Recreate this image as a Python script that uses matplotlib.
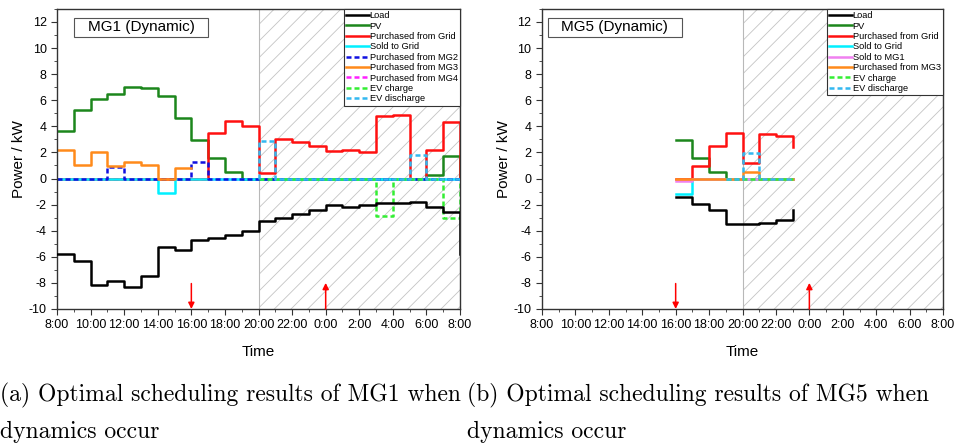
import numpy as np
import matplotlib
matplotlib.use("Agg")
import matplotlib.pyplot as plt
from matplotlib.ticker import MultipleLocator, FixedLocator

plt.rcParams["font.family"] = ["Liberation Sans", "DejaVu Sans"]
plt.rcParams["hatch.linewidth"] = 0.6
plt.rcParams["axes.unicode_minus"] = False

# hours counted from 8:00 (0) to 8:00 next day (24)
# ---- MG1, hourly values from 8:00 ----
load1 = [-5.8, -6.3, -8.15, -7.85, -8.35, -7.45, -5.25, -5.45, -4.75, -4.55, -4.35, -4.0,
         -3.25, -3.05, -2.75, -2.4, -2.05, -2.15, -2.0, -1.9, -1.9, -1.8, -2.15, -2.6]
load1_end = -5.8
pv1 = [3.63, 5.24, 6.1, 6.5, 7.05, 6.9, 6.33, 4.63, 2.93, 1.57, 0.52, 0,
       0, 0, 0, 0, 0, 0, 0, 0, 0, 0, 0.27, 1.72]
grid1 = [0, 0, 0, 0, 0, 0, 0, 0, 0, 3.48, 4.38, 4.04,
         0.4, 3.05, 2.8, 2.48, 2.07, 2.15, 2.05, 4.76, 4.88, 0, 2.2, 4.3]
sold1 = [0, 0, 0, 0, 0, 0, -1.12, 0, 0, 0, 0, 0,
         0, 0, 0, 0, 0, 0, 0, 0, 0, 0, 0, 0]
mg2_1 = [0, 0, 0, 0.88, 0, 0, 0, 0, 1.28, 0, 0, 0,
         0, 0, 0, 0, 0, 0, 0, 0, 0, 0, 0, 0]
mg3_1 = [2.17, 1.0, 2.02, 0.92, 1.3, 1.07, 0, 0.77]          # 8:00-16:00
mg4_1 = [0] * 24
ev_ch1 = [0, 0, 0, 0, 0, 0, 0, -2.86, 0, 0, 0, -3.0]          # 20:00-8:00
ev_dis1 = [2.86, 0, 0, 0, 0, 0, 0, 0, 0, 1.8, 0, 0]           # 20:00-8:00

# ---- MG5, hourly values from 16:00 ----
load5 = [-1.38, -1.95, -2.45, -3.5, -3.47, -3.4, -3.15]
load5_end = -2.4
pv5 = [2.94, 1.56, 0.51, 0, 0, 0, 0]
grid5 = [0, 0.95, 2.48, 3.5, 1.15, 3.42, 3.22]
grid5_end = 2.4
sold5 = [-1.2, 0, 0, 0, 0, 0, 0]
sold_mg1_5 = [-0.2, 0, 0, 0, 0, 0, 0]
mg3_5 = [0, 0, 0, 0, 0.5, 0, 0]
ev_ch5 = [0, 0, 0, 0]      # 19:00-23:00
ev_dis5 = [0, 1.95, 0, 0]  # 19:00-23:00

hour_labels = ["8:00", "10:00", "12:00", "14:00", "16:00", "18:00", "20:00",
               "22:00", "0:00", "2:00", "4:00", "6:00", "8:00"]

C_LOAD, C_PV, C_GRID, C_SOLD = "black", "#1c861c", "#ff1010", "#00f0ff"
C_MG2, C_MG3, C_MG4, C_MG1 = "#1010e0", "#ff8a1a", "#ff20ff", "#f080f0"
C_EVC, C_EVD = "#33ee33", "#33b8f0"
LW = 1.8
DASH = (2.0, 1.2)


def steps(ax, start, vals, end=None, lead=None, **kw):
    vals = list(vals)
    x = start + np.arange(len(vals) + 1)
    y = vals + [vals[-1] if end is None else end]
    if lead is not None:
        x = np.r_[start, x]
        y = [lead] + y
    kw.setdefault("lw", LW)
    return ax.plot(x, y, drawstyle="steps-post", **kw)[0]


def dashed(ax, *a, **kw):
    ln = steps(ax, *a, **kw)
    ln.set_dashes(DASH)
    return ln


def setup(ax, title, title_x):
    ax.axvspan(12, 24, facecolor="none", edgecolor="#c4c4c4", hatch="//", lw=0, zorder=0)
    ax.axvline(12, color="#b8b8b8", lw=0.8, zorder=0.5)
    ax.set_xlim(0, 24)
    ax.set_ylim(-10, 13)
    ax.xaxis.set_major_locator(FixedLocator(np.arange(0, 25, 2)))
    ax.set_xticklabels(hour_labels)
    ax.xaxis.set_minor_locator(MultipleLocator(1))
    ax.yaxis.set_major_locator(FixedLocator(np.arange(-10, 13, 2)))
    ax.yaxis.set_minor_locator(MultipleLocator(1))
    ax.tick_params(which="both", direction="out", labelsize=9, color="#333333")
    ax.tick_params(which="major", length=4)
    ax.tick_params(which="minor", length=2.5)
    for s in ax.spines.values():
        s.set_color("#333333")
        s.set_linewidth(1.0)
    ax.set_xlabel("Time", fontsize=11, labelpad=10)
    ax.set_ylabel("Power / kW", fontsize=11, labelpad=2)
    ax.add_patch(plt.Rectangle((title_x, 0.907), 0.333, 0.063, transform=ax.transAxes,
                               facecolor="white", edgecolor="#555555", lw=0.8, zorder=5))
    ax.text(title_x + 0.1665, 0.9385, title, transform=ax.transAxes, ha="center",
            va="center", fontsize=11, zorder=6)
    arrow = dict(arrowstyle="-|>", color="red", lw=1.1, mutation_scale=9, shrinkA=0, shrinkB=0)
    ax.annotate("", xy=(8, -10), xytext=(8, -8.05), arrowprops=arrow, zorder=6)
    ax.annotate("", xy=(16, -8.0), xytext=(16, -10), arrowprops=arrow, zorder=6)


fig = plt.figure(figsize=(9.55, 4.43), dpi=100)
ax1 = fig.add_axes([0.0597, 0.3025, 0.422, 0.6775])
ax2 = fig.add_axes([0.5675, 0.3025, 0.420, 0.6775])

# MG1
setup(ax1, "MG1 (Dynamic)", 0.042)
h1 = [
    steps(ax1, 0, load1, end=load1_end, color=C_LOAD, label="Load", zorder=3),
    steps(ax1, 0, pv1, end=0, color=C_PV, label="PV", zorder=2),
    steps(ax1, 0, grid1, end=0, color=C_GRID, label="Purchased from Grid", zorder=2.1),
    steps(ax1, 0, sold1, color=C_SOLD, label="Sold to Grid", zorder=2.2),
    dashed(ax1, 0, mg2_1, color=C_MG2, label="Purchased from MG2", zorder=2.3),
    steps(ax1, 0, mg3_1, color=C_MG3, label="Purchased from MG3", zorder=2.4),
    dashed(ax1, 0, mg4_1, color=C_MG4, label="Purchased from MG4", zorder=1.5),
    dashed(ax1, 12, ev_ch1, end=0, lead=0, color=C_EVC, label="EV charge", zorder=2.5),
    dashed(ax1, 12, ev_dis1, end=0, lead=0, color=C_EVD, label="EV discharge", zorder=2.6),
]

# MG5
setup(ax2, "MG5 (Dynamic)", 0.015)
h2 = [
    steps(ax2, 8, load5, end=load5_end, color=C_LOAD, label="Load", zorder=3),
    steps(ax2, 8, pv5, color=C_PV, label="PV", zorder=2),
    steps(ax2, 8, grid5, end=grid5_end, color=C_GRID, label="Purchased from Grid", zorder=2.1),
    steps(ax2, 8, sold5, color=C_SOLD, label="Sold to Grid", zorder=2.2),
    steps(ax2, 8, sold_mg1_5, color=C_MG1, label="Sold to MG1", zorder=2.3),
    steps(ax2, 8, mg3_5, color=C_MG3, label="Purchased from MG3", zorder=2.4),
    dashed(ax2, 11, ev_ch5, color=C_EVC, label="EV charge", zorder=2.5),
    dashed(ax2, 11, ev_dis5, color=C_EVD, label="EV discharge", zorder=2.6),
]

for ax, hs in [(ax1, h1), (ax2, h2)]:
    leg = ax.legend(handles=hs, loc="upper right", fontsize=6.7, frameon=True, fancybox=False,
                    framealpha=1, edgecolor="#333333", borderaxespad=0, handlelength=2.4,
                    handletextpad=0.1, labelspacing=0.15, borderpad=0.25)
    leg.get_frame().set_linewidth(0.8)
    leg.set_zorder(7)

cap = dict(fontsize=17, family="cmr10", ha="left", va="center")
fig.text(0.0, 0.108, "(a) Optimal scheduling results of MG1 when", **cap)
fig.text(0.0, 0.025, "dynamics occur", **cap)
fig.text(0.489, 0.108, "(b) Optimal scheduling results of MG5 when", **cap)
fig.text(0.489, 0.025, "dynamics occur", **cap)

fig.savefig("out.png", dpi=100)
